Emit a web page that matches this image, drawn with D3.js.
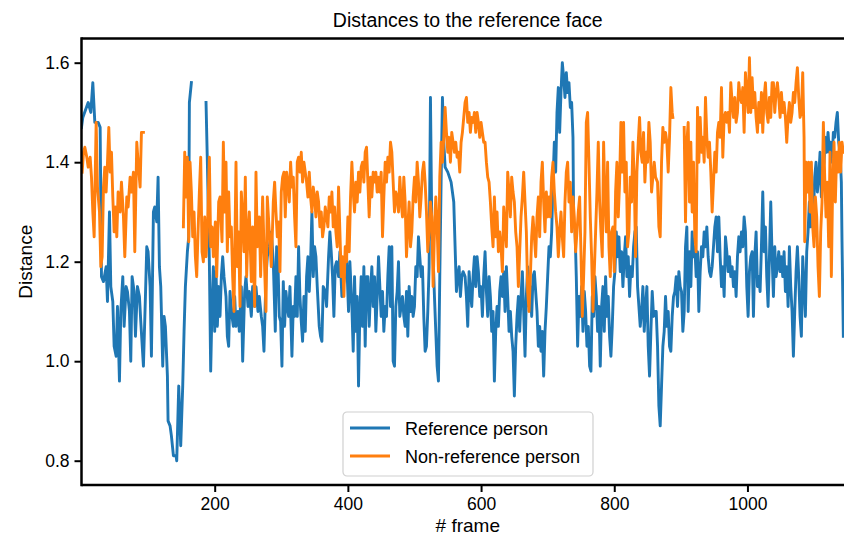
<!DOCTYPE html>
<html>
<head>
<meta charset="utf-8">
<script src="https://cdn.jsdelivr.net/npm/d3@7"></script>
<style>
  html, body { margin: 0; padding: 0; background: #fff; }
  svg { display: block; font-family: "Liberation Sans", Arial, Helvetica, sans-serif; }
</style>
</head>
<body>
<div id="chart"></div>
<script>
// ── Data (frame, distance); null = missing frames ────────────────────────────
const referencePerson = [
  [0,1.47],[2,1.49],[10,1.52],[14,1.50],[17,1.56],[20,1.48],[25,1.48],[28,1.47],[30,1.17],[33,1.16],
  [37,1.19],[39,1.12],[42,1.30],[44,1.15],[47,1.12],[49,1.03],[52,1.01],[54,1.11],[57,0.96],[59,1.10],
  [62,1.17],[64,1.07],[67,1.15],[69,1.14],[72,1.10],[74,1.00],[76,1.17],[79,1.14],[81,1.05],[84,1.15],
  [87,1.13],[89,1.08],[93,0.99],[96,1.13],[98,1.23],[100,1.22],[103,1.15],[105,1.01],[108,1.30],[110,1.31],
  [113,1.28],[115,1.37],[117,1.19],[119,1.15],[122,0.99],[124,1.09],[126,1.07],[129,0.97],[130,0.88],[133,0.87],
  [135,0.85],[138,0.81],[142,0.81],[143,0.80],[146,0.95],[149,0.83],[152,0.95],[154,1.06],[156,1.15],[159,1.22],
  [161,1.25],[162,1.52],[165,1.56],[175,null],[187,1.52],[189,1.40],[192,1.20],[194,0.98],[196,1.11],[198,1.19],
  [200,1.06],[202,1.18],[204,1.07],[206,1.15],[208,1.09],[210,1.17],[212,1.21],[214,1.17],[217,1.13],[219,1.05],
  [221,1.03],[223,1.14],[225,1.10],[228,1.07],[230,1.13],[232,1.07],[235,1.10],[237,1.06],[240,1.15],[242,1.00],
  [245,1.14],[247,1.17],[250,1.11],[252,1.14],[255,1.09],[257,1.15],[260,1.11],[262,1.15],[265,1.10],[267,1.13],
  [270,1.09],[272,1.07],[274,1.02],[277,1.17],[279,1.21],[282,1.23],[285,1.26],[288,1.20],[291,1.06],[293,1.23],
  [295,1.20],[297,1.09],[299,1.08],[301,0.99],[303,1.16],[305,1.07],[307,1.14],[309,1.11],[311,1.09],[313,1.15],
  [316,1.01],[318,1.11],[320,1.09],[322,1.17],[324,1.09],[326,1.23],[328,1.13],[330,1.08],[332,1.04],[334,1.13],
  [336,1.06],[338,1.17],[340,1.21],[342,1.14],[344,1.20],[346,1.30],[348,1.17],[350,1.23],[352,1.21],[354,1.15],
  [357,1.07],[359,1.05],[361,1.04],[363,1.15],[366,1.14],[368,1.11],[371,1.21],[373,1.26],[375,1.22],[377,1.17],
  [379,1.09],[381,1.19],[383,1.20],[386,1.17],[388,1.22],[391,1.13],[393,1.15],[396,1.18],[398,1.21],[401,1.10],
  [403,1.20],[406,1.11],[408,1.02],[410,1.17],[412,1.06],[414,1.13],[416,0.95],[418,1.10],[420,1.17],[422,1.07],
  [424,1.19],[426,1.03],[428,1.17],[430,1.17],[432,1.07],[434,1.14],[436,1.19],[438,1.11],[440,1.17],[442,1.06],
  [444,1.13],[446,1.21],[448,1.15],[450,1.09],[452,1.14],[454,1.06],[456,1.11],[458,1.09],[460,1.17],[462,1.23],
  [464,1.11],[466,1.23],[468,1.00],[470,0.99],[472,1.11],[474,1.14],[476,1.20],[478,1.09],[480,1.11],[482,1.13],
  [484,1.09],[486,1.07],[488,1.14],[490,1.05],[492,1.15],[494,1.10],[496,1.13],[498,1.09],[500,1.11],[502,1.19],
  [504,1.17],[506,1.25],[508,1.21],[510,1.17],[512,1.19],[514,1.09],[516,1.02],[518,1.03],[520,1.10],[522,1.19],
  [524,1.53],[526,1.27],[528,1.21],[530,1.13],[532,1.06],[534,0.99],[536,0.96],[538,1.17],[540,1.36],[542,1.53],
  [544,1.44],[546,1.39],[550,1.38],[555,1.36],[559,1.32],[561,1.23],[563,1.14],[565,1.17],[567,1.19],[569,1.13],
  [571,1.17],[573,1.18],[576,1.17],[578,1.13],[580,1.07],[582,1.18],[584,1.14],[586,1.11],[588,1.17],[590,1.21],
  [592,1.15],[594,1.21],[596,1.18],[598,1.13],[600,1.15],[602,1.09],[604,1.17],[606,1.22],[608,1.14],[610,1.09],
  [612,1.17],[614,1.13],[616,1.06],[618,1.10],[620,0.96],[622,1.06],[624,1.11],[626,1.07],[628,1.14],[630,1.17],
  [632,1.13],[634,1.18],[636,1.10],[638,1.19],[640,1.13],[642,1.06],[644,1.10],[646,1.05],[648,1.02],[650,0.93],
  [652,1.03],[654,1.09],[656,1.13],[658,1.06],[660,1.13],[662,1.18],[664,1.10],[666,1.01],[668,1.13],[670,1.19],
  [672,1.11],[674,1.15],[676,1.09],[678,1.17],[680,1.18],[682,1.14],[684,1.10],[686,1.03],[688,1.07],[690,1.02],
  [692,1.06],[694,0.97],[696,1.06],[698,1.11],[700,1.17],[702,1.23],[704,1.21],[706,1.26],[708,1.36],[710,1.44],
  [712,1.38],[714,1.50],[716,1.55],[718,1.46],[720,1.54],[722,1.60],[724,1.57],[726,1.53],[728,1.58],[730,1.54],
  [732,1.56],[734,1.51],[736,1.52],[738,1.45],[739,1.28],[741,1.27],[743,1.17],[745,1.03],[747,1.13],[749,1.09],
  [751,1.15],[753,1.06],[755,1.14],[757,1.10],[759,1.03],[761,1.07],[763,0.99],[765,0.98],[767,1.13],[769,1.09],
  [771,1.17],[773,1.13],[775,1.06],[777,1.11],[779,0.99],[781,1.11],[783,1.15],[785,1.06],[787,1.17],[789,1.09],
  [791,1.13],[793,1.05],[795,1.01],[797,1.07],[799,1.15],[801,1.18],[803,1.26],[805,1.21],[807,1.25],[809,1.18],
  [811,1.22],[813,1.15],[815,1.21],[817,1.25],[819,1.17],[821,1.21],[823,1.13],[825,1.19],[827,1.17],[829,1.23],
  [831,1.26],[833,1.27],[835,1.15],[837,1.11],[839,1.07],[841,1.10],[843,1.15],[845,1.06],[847,1.11],[849,1.15],
  [851,1.03],[853,0.97],[855,1.06],[857,1.14],[859,1.09],[861,1.10],[863,1.10],[865,1.03],[867,0.91],[869,0.87],
  [871,0.95],[873,1.03],[875,1.06],[877,1.13],[879,1.07],[881,1.10],[883,1.03],[885,1.02],[887,1.09],[889,1.13],
  [891,1.14],[893,1.17],[895,1.11],[897,1.18],[899,1.15],[901,1.14],[903,1.06],[905,1.10],[907,1.23],[909,1.27],
  [911,1.10],[913,1.22],[915,1.15],[917,1.26],[919,1.21],[921,1.23],[923,1.17],[925,1.22],[927,1.10],[929,1.18],
  [931,1.23],[933,1.21],[935,1.26],[937,1.23],[939,1.27],[941,1.21],[943,1.18],[945,1.17],[947,1.19],[949,1.23],
  [951,1.27],[953,1.29],[955,1.22],[957,1.29],[959,1.21],[961,1.15],[963,1.19],[965,1.13],[967,1.25],[969,1.22],
  [971,1.18],[973,1.21],[975,1.17],[977,1.19],[979,1.15],[981,1.18],[983,1.13],[985,1.21],[987,1.25],[989,1.22],
  [991,1.26],[993,1.23],[995,1.29],[997,1.26],[999,1.15],[1001,1.09],[1003,1.18],[1005,1.21],[1007,1.22],[1009,1.09],
  [1011,1.21],[1013,1.26],[1015,1.15],[1017,1.17],[1019,1.14],[1021,1.23],[1023,1.34],[1025,1.22],[1027,1.27],[1029,1.17],
  [1031,1.11],[1033,1.21],[1035,1.32],[1037,1.21],[1039,1.13],[1041,1.23],[1043,1.17],[1045,1.19],[1047,1.22],[1049,1.18],
  [1051,1.21],[1053,1.17],[1055,1.22],[1057,1.14],[1059,1.19],[1061,1.11],[1063,1.23],[1065,1.15],[1067,1.10],[1069,1.01],
  [1071,1.10],[1073,1.18],[1075,1.23],[1077,1.17],[1079,1.09],[1081,1.05],[1083,1.21],[1085,1.15],[1087,1.09],[1089,1.22],
  [1091,1.26],[1093,1.32],[1095,1.27],[1097,1.32],[1099,1.29],[1101,1.37],[1103,1.40],[1105,1.34],[1107,1.37],[1109,1.42],
  [1111,1.33],[1113,1.38],[1115,1.40],[1117,1.45],[1119,1.42],[1121,1.46],[1123,1.42],[1125,1.44],[1127,1.40],[1129,1.46],
  [1131,1.45],[1133,1.48],[1135,1.50],[1137,1.44],[1139,1.42],[1141,1.36],[1142,1.24],[1144,1.05]
];

const nonReferencePerson = [
  [1,1.38],[3,1.42],[5,1.43],[8,1.41],[10,1.39],[13,1.41],[15,1.37],[17,1.30],[19,1.25],[22,1.48],
  [24,1.35],[27,1.30],[29,1.19],[31,1.21],[33,1.35],[35,1.39],[37,1.34],[39,1.40],[41,1.47],[43,1.38],
  [45,1.42],[47,1.33],[49,1.26],[51,1.31],[53,1.25],[55,1.34],[58,1.30],[60,1.36],[63,1.29],[65,1.21],
  [68,1.33],[70,1.31],[73,1.37],[75,1.34],[78,1.38],[80,1.22],[83,1.44],[85,1.40],[88,1.35],[90,1.46],
  [93,1.46],[120,null],[153,1.27],[155,1.42],[157,1.33],[159,1.41],[161,1.24],[163,1.40],[165,1.34],[167,1.25],
  [169,1.30],[171,1.21],[173,1.17],[175,1.26],[177,1.34],[179,1.41],[181,1.22],[183,1.20],[185,1.29],[187,1.21],
  [189,1.26],[192,1.41],[194,1.23],[196,1.27],[198,1.21],[201,1.28],[203,1.17],[206,1.32],[208,1.33],[211,1.24],
  [213,1.44],[215,1.30],[217,1.40],[219,1.22],[221,1.34],[223,1.25],[225,1.27],[227,1.17],[229,1.10],[232,1.40],
  [234,1.19],[236,1.26],[238,1.11],[240,1.34],[242,1.29],[244,1.22],[246,1.37],[248,1.17],[250,1.26],[252,1.30],
  [255,1.16],[257,1.27],[260,1.11],[262,1.38],[264,1.23],[267,1.29],[269,1.17],[272,1.33],[274,1.23],[277,1.10],
  [279,1.33],[282,1.26],[285,1.19],[286,1.23],[288,1.32],[290,1.36],[292,1.30],[294,1.25],[296,1.28],[298,1.18],
  [300,1.34],[302,1.37],[304,1.38],[306,1.29],[308,1.38],[310,1.36],[312,1.32],[314,1.40],[316,1.35],[318,1.37],
  [320,1.29],[322,1.23],[324,1.40],[326,1.41],[328,1.38],[330,1.42],[332,1.36],[334,1.40],[336,1.38],[338,1.36],
  [340,1.33],[342,1.38],[344,1.33],[346,1.30],[348,1.35],[350,1.33],[352,1.29],[354,1.34],[356,1.32],[358,1.27],
  [360,1.30],[362,1.25],[364,1.27],[366,1.31],[368,1.29],[370,1.27],[372,1.33],[374,1.30],[376,1.34],[378,1.27],
  [380,1.31],[382,1.26],[384,1.23],[386,1.35],[388,1.26],[390,1.17],[392,1.21],[394,1.13],[396,1.23],[398,1.20],
  [400,1.29],[402,1.22],[404,1.33],[406,1.40],[408,1.34],[410,1.30],[412,1.36],[414,1.32],[416,1.38],[418,1.34],
  [420,1.39],[422,1.40],[424,1.36],[426,1.42],[428,1.43],[430,1.36],[432,1.29],[434,1.37],[436,1.33],[438,1.38],
  [440,1.36],[442,1.38],[444,1.34],[446,1.37],[448,1.34],[450,1.38],[452,1.25],[454,1.33],[456,1.40],[458,1.36],
  [460,1.41],[462,1.38],[464,1.44],[466,1.42],[468,1.36],[470,1.30],[472,1.34],[474,1.33],[476,1.30],[478,1.37],
  [480,1.32],[482,1.29],[484,1.37],[486,1.32],[488,1.21],[490,1.27],[492,1.32],[494,1.23],[496,1.26],[498,1.33],
  [500,1.37],[502,1.32],[504,1.40],[506,1.36],[508,1.29],[510,1.33],[512,1.38],[514,1.40],[516,1.36],[518,1.30],
  [520,1.22],[522,1.26],[524,1.32],[526,1.29],[528,1.15],[530,1.26],[532,1.33],[534,1.27],[536,1.18],[538,1.37],
  [540,1.44],[542,1.40],[544,1.45],[546,1.51],[548,1.46],[550,1.42],[552,1.45],[554,1.40],[556,1.46],[558,1.44],
  [560,1.42],[562,1.44],[564,1.41],[566,1.42],[568,1.38],[570,1.44],[572,1.46],[574,1.49],[576,1.52],[578,1.53],
  [580,1.48],[582,1.50],[584,1.46],[586,1.49],[588,1.48],[590,1.50],[592,1.46],[594,1.50],[596,1.48],[598,1.45],
  [600,1.48],[602,1.46],[604,1.44],[606,1.44],[608,1.40],[610,1.37],[612,1.36],[614,1.32],[616,1.27],[618,1.23],
  [620,1.33],[622,1.25],[624,1.30],[626,1.22],[628,1.26],[630,1.23],[632,1.18],[634,1.31],[636,1.27],[638,1.23],
  [640,1.38],[642,1.34],[644,1.29],[646,1.37],[648,1.34],[650,1.32],[652,1.26],[654,1.23],[656,1.15],[658,1.22],
  [660,1.29],[662,1.33],[664,1.38],[666,1.32],[668,1.26],[670,1.14],[672,1.10],[674,1.17],[676,1.25],[678,1.29],
  [680,1.25],[682,1.21],[684,1.29],[686,1.33],[688,1.25],[690,1.36],[692,1.40],[694,1.32],[696,1.26],[698,1.34],
  [700,1.29],[702,1.33],[704,1.29],[706,1.37],[708,1.40],[710,1.34],[712,1.30],[714,1.27],[716,1.21],[718,1.26],
  [720,1.30],[722,1.25],[724,1.21],[726,1.32],[728,1.38],[730,1.40],[732,1.32],[734,1.36],[736,1.26],[738,1.33],
  [740,1.29],[742,1.22],[744,1.26],[746,1.30],[748,1.33],[750,1.22],[752,1.09],[754,1.17],[756,1.26],[758,1.48],
  [760,1.50],[762,1.40],[764,1.29],[766,1.21],[768,1.10],[770,1.18],[772,1.26],[774,1.34],[776,1.44],[778,1.32],
  [780,1.26],[782,1.21],[784,1.44],[786,1.33],[788,1.26],[790,1.40],[792,1.23],[794,1.17],[796,1.26],[798,1.27],
  [800,1.18],[802,1.34],[804,1.40],[806,1.29],[808,1.36],[810,1.48],[812,1.38],[814,1.48],[816,1.34],[818,1.40],
  [820,1.23],[822,1.26],[824,1.37],[826,1.32],[828,1.44],[830,1.37],[832,1.21],[834,1.38],[836,1.44],[838,1.49],
  [840,1.42],[842,1.40],[844,1.46],[846,1.36],[848,1.42],[850,1.40],[852,1.48],[854,1.44],[856,1.34],[858,1.37],
  [860,1.40],[862,1.37],[865,1.36],[867,1.27],[869,1.25],[871,1.40],[873,1.47],[875,1.44],[877,1.46],[879,1.44],
  [881,1.38],[883,1.45],[885,1.55],[887,1.50],[888,1.49],[895,null],[905,1.47],[907,1.28],[909,1.44],[911,1.48],
  [913,1.32],[915,1.44],[917,1.30],[919,1.40],[921,1.25],[923,1.22],[925,1.51],[927,1.40],[929,1.49],[931,1.42],
  [933,1.45],[935,1.40],[937,1.53],[939,1.45],[941,1.41],[943,1.44],[945,1.38],[947,1.30],[949,1.36],[951,1.42],
  [953,1.38],[955,1.46],[957,1.48],[959,1.45],[961,1.55],[963,1.41],[965,1.49],[967,1.50],[969,1.48],[971,1.50],
  [973,1.46],[975,1.56],[977,1.52],[979,1.49],[981,1.53],[983,1.48],[985,1.50],[987,1.56],[989,1.53],[991,1.52],
  [993,1.55],[995,1.46],[997,1.58],[999,1.54],[1001,1.50],[1003,1.61],[1005,1.50],[1007,1.57],[1009,1.51],[1011,1.54],
  [1013,1.49],[1015,1.46],[1017,1.52],[1019,1.48],[1021,1.54],[1023,1.46],[1025,1.53],[1027,1.56],[1029,1.50],[1031,1.48],
  [1033,1.53],[1035,1.49],[1037,1.56],[1039,1.56],[1041,1.50],[1043,1.54],[1045,1.56],[1047,1.53],[1049,1.49],[1051,1.54],
  [1053,1.50],[1055,1.52],[1057,1.49],[1059,1.44],[1061,1.49],[1063,1.52],[1065,1.48],[1067,1.50],[1069,1.54],[1071,1.52],
  [1073,1.56],[1075,1.59],[1077,1.53],[1079,1.49],[1081,1.50],[1083,1.58],[1085,1.45],[1086,1.24],[1088,1.40],[1090,1.34],
  [1092,1.40],[1094,1.30],[1096,1.40],[1098,1.27],[1100,1.23],[1102,1.33],[1104,1.29],[1106,1.19],[1108,1.13],[1110,1.26],
  [1112,1.32],[1114,1.48],[1116,1.37],[1118,1.29],[1120,1.36],[1122,1.23],[1124,1.42],[1126,1.17],[1128,1.36],[1130,1.44],
  [1132,1.32],[1134,1.42],[1136,1.38],[1138,1.44],[1140,1.38],[1142,1.44],[1144,1.42]
];

const seriesNames = ['Reference person', 'Non-reference person'];
const seriesColors = ['#1f77b4', '#ff7f0e'];
const xTickValues = [200, 400, 600, 800, 1000];
const yTickValues = [0.8, 1.0, 1.2, 1.4, 1.6];

// ── Layout ───────────────────────────────────────────────────────────────────
const W = 844, H = 537;
const box = { left: 81.5, right: 854, top: 38.5, bottom: 485 };
const lineWidth = 2.9;

const svg = d3.select('#chart').append('svg')
  .attr('width', W)
  .attr('height', H);

const x = d3.scaleLinear().domain([0, 1160]).range([box.left, box.right]);
const y = d3.scaleLinear().domain([0.8, 1.6]).range([460.7, 62.7]);

svg.append('clipPath').attr('id', 'plot-clip')
  .append('rect')
  .attr('x', box.left).attr('y', box.top)
  .attr('width', box.right - box.left).attr('height', box.bottom - box.top);

// ── Lines ────────────────────────────────────────────────────────────────────
const line = d3.line()
  .defined(d => d[1] != null)
  .x(d => x(d[0]))
  .y(d => y(d[1]));

const plotG = svg.append('g').attr('clip-path', 'url(#plot-clip)');
[referencePerson, nonReferencePerson].forEach((data, i) => {
  plotG.append('path')
    .datum(data)
    .attr('d', line)
    .attr('fill', 'none')
    .attr('stroke', seriesColors[i])
    .attr('stroke-width', lineWidth)
    .attr('stroke-linejoin', 'round')
    .attr('stroke-linecap', 'square');
});

// ── Axes ─────────────────────────────────────────────────────────────────────
const xAxis = svg.append('g')
  .attr('transform', `translate(0,${box.bottom})`)
  .call(d3.axisBottom(x).tickValues(xTickValues).tickSize(7).tickPadding(6).tickFormat(d3.format('d')));
const yAxis = svg.append('g')
  .attr('transform', `translate(${box.left},0)`)
  .call(d3.axisLeft(y).tickValues(yTickValues).tickSize(7).tickPadding(5).tickFormat(d3.format('.1f')));

[xAxis, yAxis].forEach(ax => {
  ax.select('.domain').remove();
  ax.selectAll('.tick line').attr('stroke', '#000').attr('stroke-width', 2);
  ax.selectAll('.tick text')
    .attr('fill', '#000')
    .style('font-size', '17.5px')
    .style('font-family', '"Liberation Sans", Arial, sans-serif');
});

// Spines (top, left, bottom; right one sits outside the crop)
const spines = svg.append('g').attr('fill', 'none').attr('stroke', '#000').attr('stroke-width', 2.5);
spines.append('line').attr('x1', box.left).attr('x2', W + 5).attr('y1', box.top).attr('y2', box.top);
spines.append('line').attr('x1', box.left).attr('x2', W + 5).attr('y1', box.bottom).attr('y2', box.bottom);
spines.append('line').attr('x1', box.left).attr('x2', box.left).attr('y1', box.top - 1.25).attr('y2', box.bottom + 1.25);

// ── Labels ───────────────────────────────────────────────────────────────────
const mid = (box.left + box.right) / 2;
svg.append('text')
  .attr('x', mid).attr('y', 27)
  .attr('text-anchor', 'middle')
  .style('font-size', '19.5px')
  .text('Distances to the reference face');

svg.append('text')
  .attr('x', mid).attr('y', 532)
  .attr('text-anchor', 'middle')
  .style('font-size', '19px')
  .text('# frame');

svg.append('text')
  .attr('transform', `translate(32,${(box.top + box.bottom) / 2}) rotate(-90)`)
  .attr('text-anchor', 'middle')
  .style('font-size', '19px')
  .text('Distance');

// ── Legend ───────────────────────────────────────────────────────────────────
const legend = svg.append('g').attr('transform', 'translate(343,412)');
legend.append('rect')
  .attr('width', 250).attr('height', 64)
  .attr('rx', 4)
  .attr('fill', 'rgba(255,255,255,0.8)')
  .attr('stroke', '#d0d0d0')
  .attr('stroke-width', 1.2);

seriesNames.forEach((name, i) => {
  const row = legend.append('g').attr('transform', `translate(0,${16 + i * 28})`);
  row.append('line')
    .attr('x1', 7).attr('x2', 47)
    .attr('stroke', seriesColors[i])
    .attr('stroke-width', lineWidth);
  row.append('text')
    .attr('x', 62).attr('y', 6.5)
    .style('font-size', '18px')
    .text(name);
});
</script>
</body>
</html>
